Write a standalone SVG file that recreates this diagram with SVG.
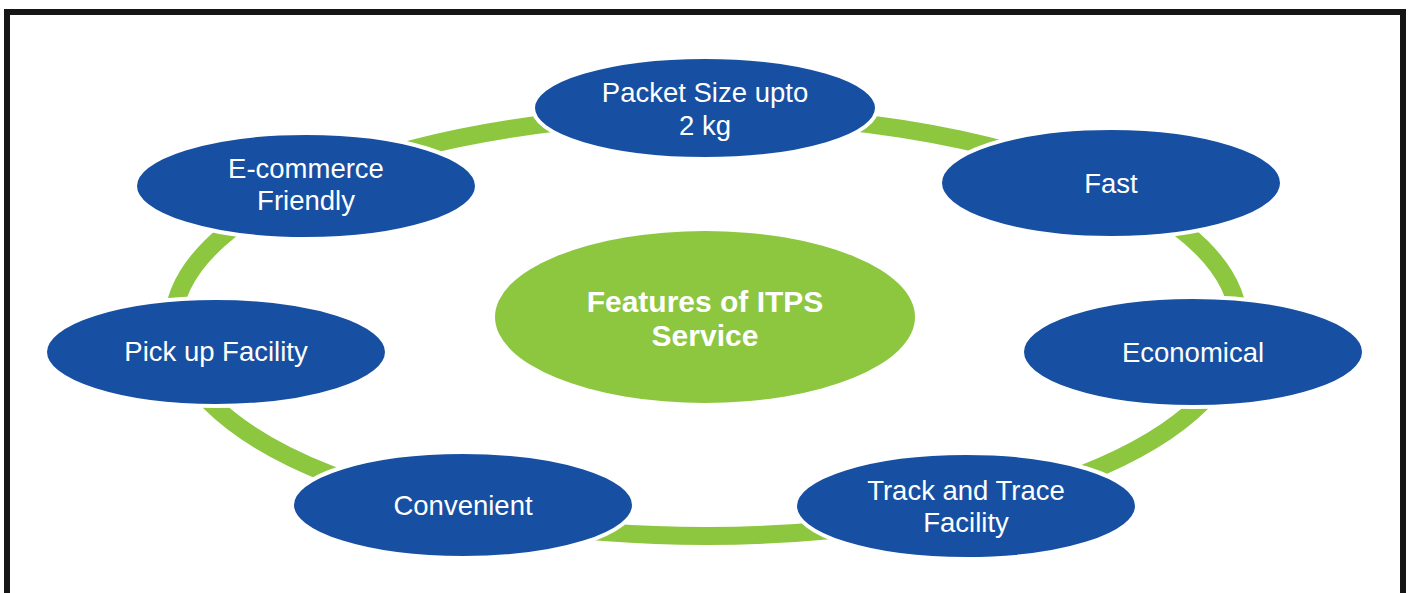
<svg xmlns="http://www.w3.org/2000/svg" width="1410" height="593" viewBox="0 0 1410 593">
<style>
.node{fill:#1750a2;stroke:#ffffff;stroke-width:4}
.lbl{font-family:"Liberation Sans",Arial,sans-serif;font-size:27.5px;fill:#ffffff;text-anchor:middle}
.ctr{font-family:"Liberation Sans",Arial,sans-serif;font-size:30px;font-weight:bold;fill:#ffffff;text-anchor:middle}
</style>
<rect x="0" y="0" width="1410" height="593" fill="#ffffff"/>
<rect x="7" y="12" width="1396" height="600" fill="none" stroke="#161616" stroke-width="6"/>
<g id="connectors">
<ellipse cx="706" cy="325" rx="533" ry="211" fill="none" stroke="#8dc63f" stroke-width="18"/>
</g>
<g id="center">
<ellipse cx="705" cy="317" rx="210" ry="86" fill="#8dc63f"/>
<text class="ctr" x="705" y="312">Features of ITPS</text>
<text class="ctr" x="705" y="346">Service</text>
</g>
<g id="packet">
<ellipse class="node" cx="705" cy="108" rx="172" ry="51"/>
<text class="lbl" x="705" y="102">Packet Size upto</text>
<text class="lbl" x="705" y="135">2 kg</text>
</g>
<g id="ecommerce">
<ellipse class="node" cx="306" cy="186" rx="171" ry="53"/>
<text class="lbl" x="306" y="178">E-commerce</text>
<text class="lbl" x="306" y="210">Friendly</text>
</g>
<g id="fast">
<ellipse class="node" cx="1111" cy="183" rx="171" ry="55"/>
<text class="lbl" x="1111" y="193">Fast</text>
</g>
<g id="pickup">
<ellipse class="node" cx="216" cy="352" rx="171" ry="54"/>
<text class="lbl" x="216" y="361">Pick up Facility</text>
</g>
<g id="economical">
<ellipse class="node" cx="1193" cy="352" rx="171" ry="55"/>
<text class="lbl" x="1193" y="362">Economical</text>
</g>
<g id="convenient">
<ellipse class="node" cx="463" cy="505" rx="171" ry="53"/>
<text class="lbl" x="463" y="515">Convenient</text>
</g>
<g id="track">
<ellipse class="node" cx="966" cy="506" rx="171" ry="53"/>
<text class="lbl" x="966" y="500">Track and Trace</text>
<text class="lbl" x="966" y="532">Facility</text>
</g>
</svg>
